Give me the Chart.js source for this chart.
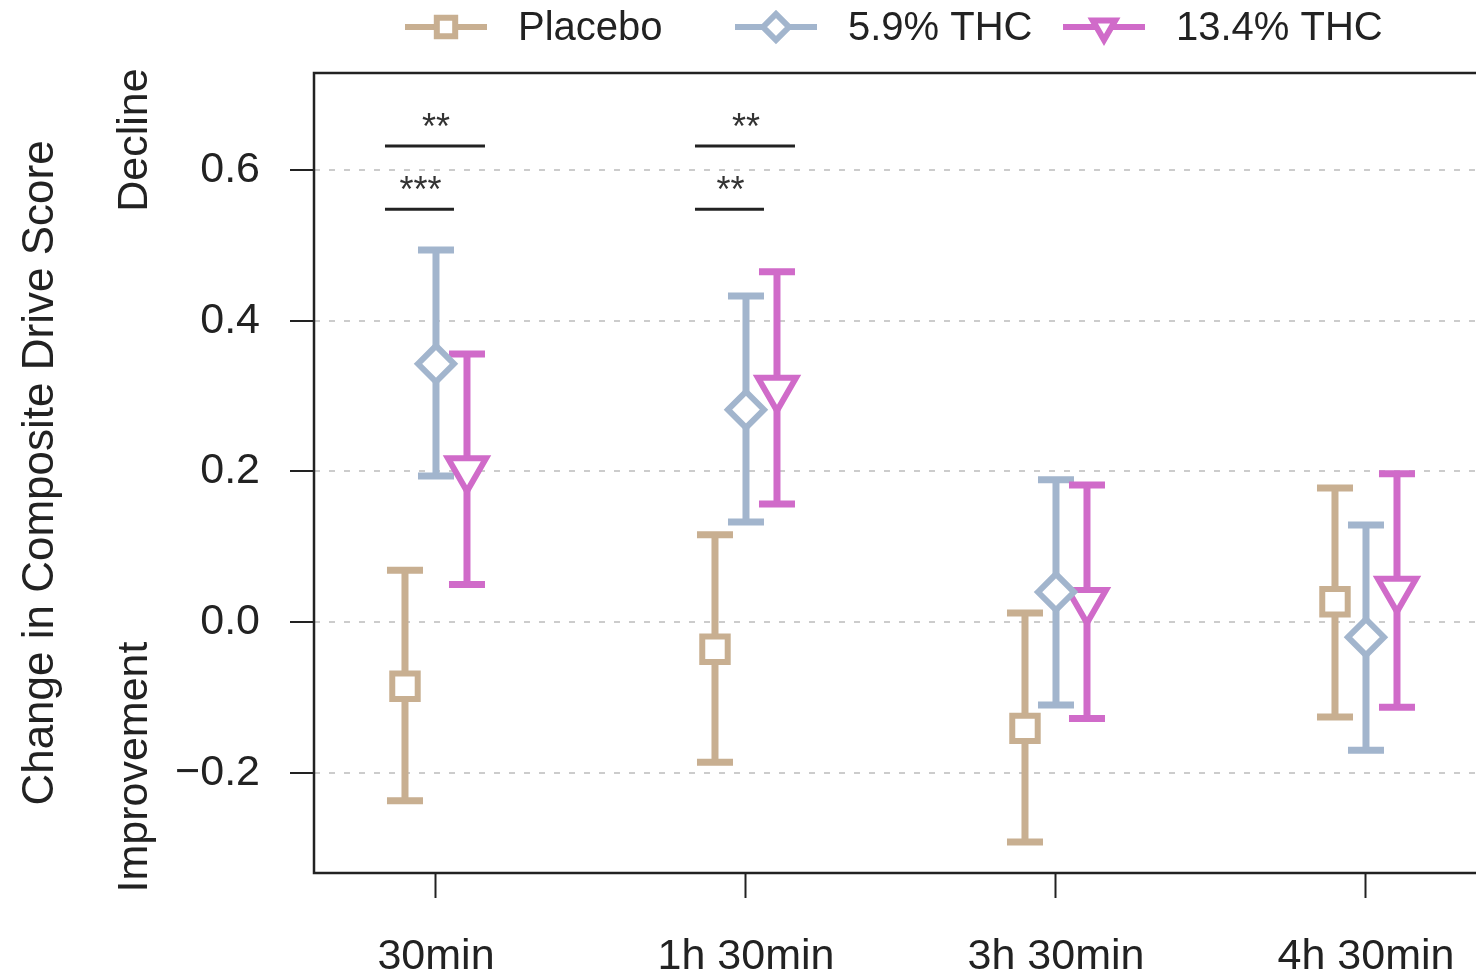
<!DOCTYPE html>
<html>
<head>
<meta charset="utf-8">
<script src="https://cdn.jsdelivr.net/npm/chart.js@4.4.1/dist/chart.umd.min.js"></script>
<style>
  html, body { margin: 0; padding: 0; background: #fff; overflow: hidden; }
  #wrap { width: 1476px; height: 976px; overflow: hidden; }
</style>
</head>
<body>
<div id="wrap"><canvas id="driveChart" width="1600" height="976"></canvas></div>
<script>
// time points after dosing
const timepoints = ['30min', '1h 30min', '3h 30min', '4h 30min'];
const groupLabels = ['Placebo', '5.9% THC', '13.4% THC'];
const yTicks = [-0.2, 0.0, 0.2, 0.4, 0.6];

// estimated marginal means with 95% CI
const placeboMean = [-0.085, -0.036, -0.141, 0.027];
const placeboLow  = [-0.237, -0.186, -0.292, -0.126];
const placeboHigh = [0.069, 0.116, 0.012, 0.178];

const thc59Mean = [0.343, 0.282, 0.040, -0.020];
const thc59Low  = [0.194, 0.133, -0.110, -0.170];
const thc59High = [0.494, 0.433, 0.189, 0.129];

const thc134Mean = [0.203, 0.310, 0.028, 0.043];
const thc134Low  = [0.050, 0.157, -0.128, -0.113];
const thc134High = [0.356, 0.465, 0.182, 0.197];

// pairwise comparisons: [time index, group a, group b, bar height, stars]
const sigBars = [
  [0, 0, 2, 0.632, '**'],
  [0, 0, 1, 0.548, '***'],
  [1, 0, 2, 0.632, '**'],
  [1, 0, 1, 0.548, '**']
];

const groupOffset = [-0.1, 0, 0.1];
const colors = ['#c8af91', '#a2b5cd', '#d06bc9'];
const FONT = "'Liberation Sans', Arial, sans-serif";
const X_MIN = -0.3935;
const PX_PER_STEP = 310;   // horizontal spacing between time points

const means = [placeboMean, thc59Mean, thc134Mean];
const lows = [placeboLow, thc59Low, thc134Low];
const highs = [placeboHigh, thc59High, thc134High];
const styles = [
  { pointStyle: 'rect', rotation: 0, radius: 18 },
  { pointStyle: 'rectRot', rotation: 0, radius: 18 },
  { pointStyle: 'triangle', rotation: 180, radius: 22 }
];

const datasets = groupLabels.map((label, g) => ({
  label: label,
  data: means[g].map((v, i) => ({ x: i + groupOffset[g], y: v })),
  borderColor: colors[g],
  backgroundColor: '#ffffff',
  pointStyle: styles[g].pointStyle,
  rotation: styles[g].rotation,
  pointRadius: styles[g].radius,
  pointBorderWidth: 6,
  showLine: false
}));

// keep time points evenly spaced whatever width the plot area ends up with
const fixSpacing = {
  id: 'fixSpacing',
  afterLayout(chart) {
    const s = chart.scales.x;
    s.min = X_MIN;
    s.max = X_MIN + (s.right - s.left) / PX_PER_STEP;
    s.configure();
  }
};

const errorBars = {
  id: 'errorBars',
  beforeDatasetsDraw(chart) {
    const ctx = chart.ctx;
    const xs = chart.scales.x, ys = chart.scales.y;
    ctx.save();
    ctx.lineWidth = 7;
    ctx.lineCap = 'butt';
    for (let g = 0; g < 3; g++) {
      ctx.strokeStyle = colors[g];
      for (let i = 0; i < timepoints.length; i++) {
        const x = xs.getPixelForValue(i + groupOffset[g]);
        const y1 = ys.getPixelForValue(lows[g][i]);
        const y2 = ys.getPixelForValue(highs[g][i]);
        ctx.beginPath();
        ctx.moveTo(x, y1); ctx.lineTo(x, y2);
        ctx.moveTo(x - 18, y1); ctx.lineTo(x + 18, y1);
        ctx.moveTo(x - 18, y2); ctx.lineTo(x + 18, y2);
        ctx.stroke();
      }
    }
    ctx.restore();
  }
};

const extras = {
  id: 'extras',
  afterDraw(chart) {
    const ctx = chart.ctx;
    const a = chart.chartArea;
    const xs = chart.scales.x, ys = chart.scales.y;
    ctx.save();

    // plot frame
    ctx.strokeStyle = '#222';
    ctx.lineWidth = 2.5;
    ctx.strokeRect(a.left, a.top, a.right - a.left, a.bottom - a.top);

    // significance brackets
    ctx.lineWidth = 3;
    ctx.fillStyle = '#333';
    ctx.font = '36px ' + FONT;
    ctx.textAlign = 'center';
    ctx.textBaseline = 'alphabetic';
    sigBars.forEach(([t, ga, gb, h, stars]) => {
      const xa = xs.getPixelForValue(t + groupOffset[ga]);
      const xb = xs.getPixelForValue(t + groupOffset[gb]);
      const y = ys.getPixelForValue(h);
      ctx.beginPath();
      ctx.moveTo(xa - 20, y); ctx.lineTo(xb + 18, y);
      ctx.stroke();
      ctx.fillText(stars, (xa + xb) / 2, y - 7);
    });

    // axis titles
    ctx.fillStyle = '#222';
    ctx.font = '44px ' + FONT;
    const vtext = (txt, x, y) => {
      ctx.save();
      ctx.translate(x, y);
      ctx.rotate(-Math.PI / 2);
      ctx.fillText(txt, 0, 0);
      ctx.restore();
    };
    vtext('Change in Composite Drive Score', 53, 473);
    ctx.font = '43px ' + FONT;
    vtext('Decline', 147, 140);
    vtext('Improvement', 147, 767);

    // legend across the top
    const legendX = [405, 735, 1063];
    const ly = 27;
    ctx.font = '40px ' + FONT;
    ctx.textAlign = 'left';
    ctx.textBaseline = 'middle';
    chart.data.datasets.forEach((ds, g) => {
      const x0 = legendX[g];
      ctx.strokeStyle = ds.borderColor;
      ctx.lineWidth = 6;
      ctx.beginPath();
      ctx.moveTo(x0, ly); ctx.lineTo(x0 + 82, ly);
      ctx.stroke();
      ctx.fillStyle = '#fff';
      Chart.helpers.drawPoint(ctx, {
        pointStyle: ds.pointStyle, rotation: ds.rotation, radius: 13, borderWidth: 5
      }, x0 + 41, ly);
      ctx.fillStyle = '#222';
      ctx.fillText(ds.label, x0 + 113, ly + 2);
    });
    ctx.restore();
  }
};

new Chart(document.getElementById('driveChart'), {
  type: 'scatter',
  data: { datasets: datasets },
  options: {
    responsive: false,
    animation: false,
    devicePixelRatio: 1,
    layout: { padding: { top: 73, left: 0, right: 0, bottom: 0 } },
    plugins: { legend: { display: false }, tooltip: { enabled: false } },
    scales: {
      x: {
        type: 'linear',
        min: X_MIN,
        max: 3.6,
        afterBuildTicks: s => { s.ticks = timepoints.map((_, i) => ({ value: i })); },
        afterFit: s => { s.height = 103; },
        ticks: {
          callback: v => timepoints[v],
          font: { family: FONT, size: 43 },
          color: '#222',
          padding: 33,
          maxRotation: 0,
          autoSkip: false
        },
        grid: { drawOnChartArea: false, tickLength: 25, tickColor: '#222', tickWidth: 2, color: '#222' },
        border: { display: false }
      },
      y: {
        min: -0.333,
        max: 0.729,
        afterBuildTicks: s => { s.ticks = yTicks.map(v => ({ value: v })); },
        afterFit: s => { s.width = 314; },
        ticks: {
          callback: v => v.toFixed(1).replace('-', '\u2212'),
          font: { family: FONT, size: 43 },
          color: '#222',
          padding: 30
        },
        grid: { color: '#cccccc', lineWidth: 2, tickLength: 24, tickColor: '#222', tickWidth: 2, tickBorderDash: [] },
        border: { display: false, dash: [6, 9] }
      }
    }
  },
  plugins: [fixSpacing, errorBars, extras]
});
</script>
</body>
</html>
